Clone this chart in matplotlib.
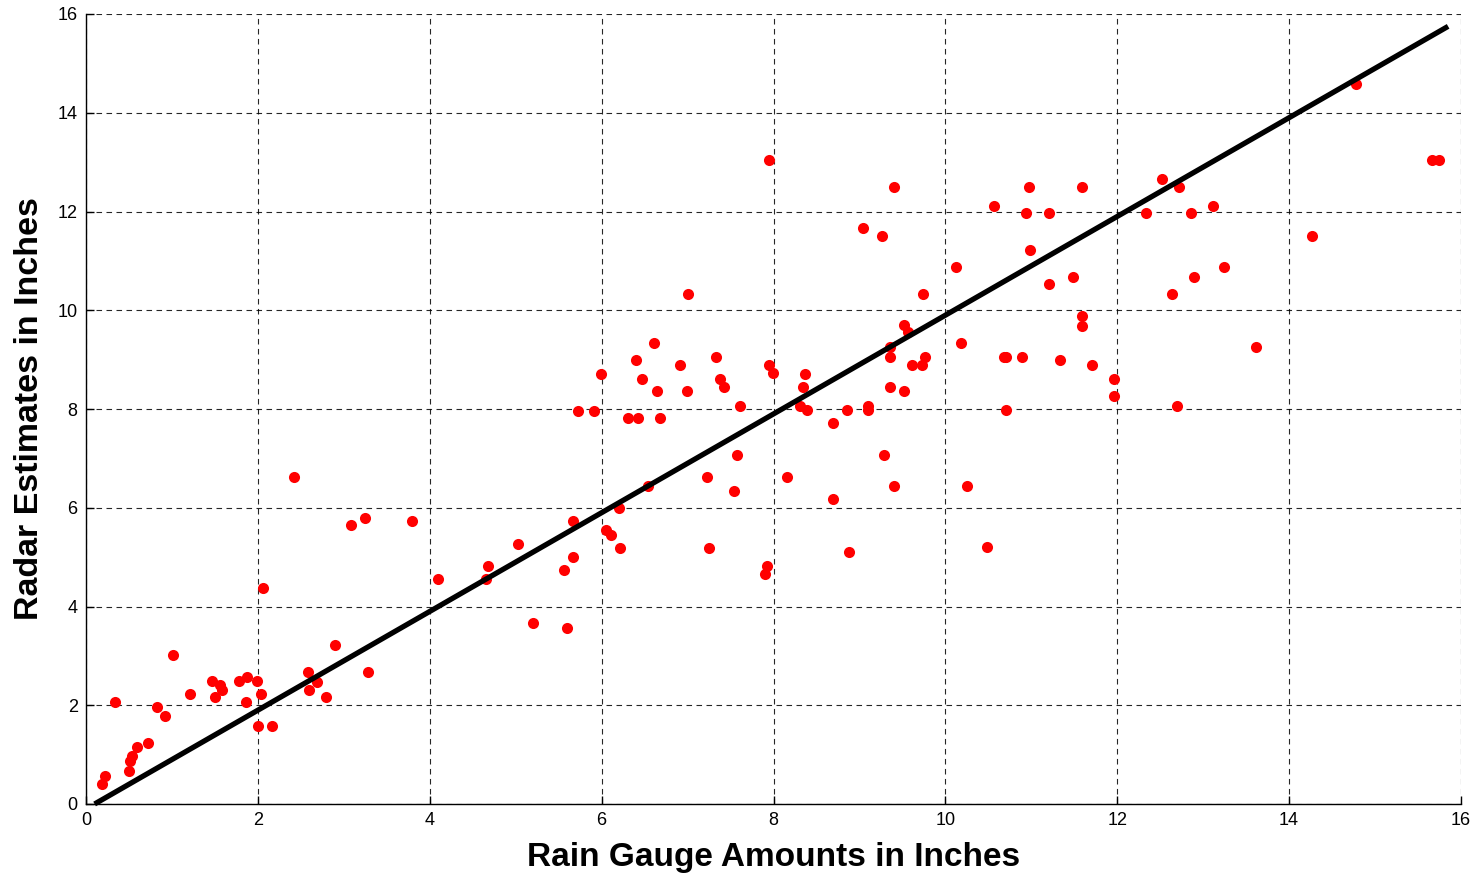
import matplotlib
matplotlib.use("Agg")
import matplotlib.pyplot as plt

plt.rcParams['font.family'] = ['Liberation Sans', 'DejaVu Sans']

gauge = [0.19, 0.22, 0.34, 0.50, 0.51, 0.54, 0.59, 0.72, 0.83, 0.92,
         1.01, 1.21, 1.47, 1.56, 1.58, 1.50, 1.78, 1.87, 1.86, 1.99,
         2.00, 2.04, 2.06, 2.16, 2.42, 2.58, 2.59, 2.69, 2.79, 2.90,
         3.08, 3.25, 3.28, 3.79, 4.10, 4.65, 4.68, 5.03, 5.20, 5.56,
         5.60, 5.67, 5.67, 5.72, 5.91, 5.99, 6.05, 6.11, 6.20, 6.21,
         6.31, 6.42, 6.40, 6.47, 6.54, 6.61, 6.64, 6.68, 6.91, 6.99,
         7.00, 7.23, 7.25, 7.33, 7.38, 7.42, 7.54, 7.58, 7.61, 7.90,
         7.92, 7.95, 7.95, 7.99, 8.16, 8.31, 8.34, 8.37, 8.39, 8.69,
         8.69, 8.86, 8.88, 9.04, 9.10, 9.10, 9.26, 9.29, 9.35, 9.36,
         9.36, 9.40, 9.40, 9.52, 9.52, 9.56, 9.61, 9.73, 9.74, 9.76,
         10.12, 10.18, 10.25, 10.48, 10.57, 10.68, 10.71, 10.71, 10.89, 10.94,
         10.97, 10.98, 11.21, 11.21, 11.33, 11.48, 11.59, 11.59, 11.59, 11.71,
         11.96, 11.96, 12.33, 12.52, 12.64, 12.69, 12.72, 12.86, 12.89, 13.11,
         13.24, 13.61, 14.27, 14.78, 15.66, 15.74]

radar = [0.41, 0.57, 2.07, 0.67, 0.87, 0.97, 1.15, 1.24, 1.96, 1.78,
         3.02, 2.23, 2.49, 2.41, 2.31, 2.17, 2.49, 2.57, 2.07, 2.49,
         1.58, 2.23, 4.37, 1.58, 6.62, 2.67, 2.31, 2.47, 2.17, 3.22,
         5.65, 5.79, 2.67, 5.73, 4.56, 4.56, 4.82, 5.27, 3.67, 4.74,
         3.56, 5.00, 5.73, 7.96, 7.96, 8.71, 5.55, 5.45, 5.99, 5.18,
         7.82, 7.82, 8.99, 8.61, 6.44, 9.34, 8.36, 7.82, 8.89, 8.36,
         10.33, 6.62, 5.18, 9.05, 8.61, 8.45, 6.34, 7.07, 8.06, 4.66,
         4.82, 13.04, 8.89, 8.73, 6.62, 8.06, 8.45, 8.71, 7.98, 7.72,
         6.18, 7.98, 5.10, 11.67, 8.06, 7.98, 11.50, 7.07, 9.26, 9.05,
         8.45, 12.50, 6.44, 8.36, 9.70, 9.56, 8.89, 8.89, 10.33, 9.05,
         10.88, 9.34, 6.44, 5.20, 12.11, 9.05, 9.05, 7.98, 9.05, 11.97,
         12.50, 11.22, 11.97, 10.53, 8.99, 10.67, 12.50, 9.88, 9.68, 8.89,
         8.61, 8.26, 11.97, 12.66, 10.33, 8.06, 12.50, 11.97, 10.67, 12.11,
         10.88, 9.26, 11.50, 14.58, 13.04, 13.04]

fit_x = [0.1, 15.85]
fit_y = [0.0, 15.75]

x_ticks = [0, 2, 4, 6, 8, 10, 12, 14, 16]
y_ticks = [0, 2, 4, 6, 8, 10, 12, 14, 16]

fig = plt.figure(figsize=(14.77, 8.75), dpi=100)
ax = fig.add_axes([86/1477, 1 - 804/875, (1461 - 86)/1477, (804 - 14)/875])

ax.plot(gauge, radar, 'o', color='#ff0000', markersize=8, markeredgewidth=0,
        zorder=3, clip_on=False)
ax.plot(fit_x, fit_y, '-', color='black', linewidth=3.8, zorder=4,
        solid_capstyle='butt', clip_on=False)

ax.set_xlim(0, 16)
ax.set_ylim(0, 16)
ax.set_xticks(x_ticks)
ax.set_yticks(y_ticks)
ax.set_xticklabels([str(v) for v in x_ticks])
ax.set_yticklabels([str(v) for v in y_ticks])

ax.grid(True, color='black', linestyle=(0, (5, 4)), linewidth=0.8, alpha=0.85)
ax.set_axisbelow(True)

for s in ['top', 'right']:
    ax.spines[s].set_visible(False)
for s in ['left', 'bottom']:
    ax.spines[s].set_linewidth(1.0)

ax.tick_params(direction='in', length=6, width=1, labelsize=13, pad=6)

ax.set_xlabel('Rain Gauge Amounts in Inches', fontsize=24, fontweight='bold',
              labelpad=9)
ax.set_ylabel('Radar Estimates in Inches', fontsize=24.5, fontweight='bold',
              labelpad=9)

fig.savefig('out.png', dpi=100, facecolor='white')
